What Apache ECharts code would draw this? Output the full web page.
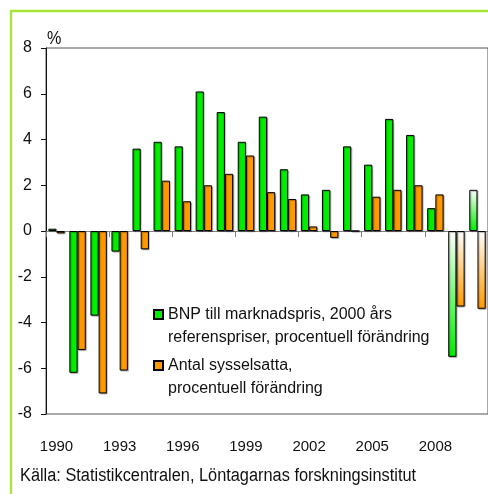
<!DOCTYPE html>
<html>
<head>
<meta charset="utf-8">
<script src="https://cdn.jsdelivr.net/npm/echarts@6/dist/echarts.min.js"></script>
<style>
html,body{margin:0;padding:0;background:#fff;}
#main{width:488px;height:494px;}
</style>
</head>
<body>
<div id="main"></div>
<script>
var years = ['1990','1991','1992','1993','1994','1995','1996','1997','1998','1999','2000',
             '2001','2002','2003','2004','2005','2006','2007','2008','2009','2010'];
// BNP till marknadspris, procentuell förändring
var bnp = [0.1, -6.2, -3.7, -0.9, 3.6, 3.9, 3.7, 6.1, 5.2, 3.9, 5.0,
           2.7, 1.6, 1.8, 3.7, 2.9, 4.9, 4.2, 1.0, -5.5, 1.8];
// Antal sysselsatta, procentuell förändring
var emp = [-0.1, -5.2, -7.1, -6.1, -0.8, 2.2, 1.3, 2.0, 2.5, 3.3, 1.7,
           1.4, 0.2, -0.3, 0, 1.5, 1.8, 2.0, 1.6, -3.3, -3.4];
// prognosår
var forecast = ['2009','2010'];
var yTicks = {min: -8, max: 8, step: 2};

var nameBnp = 'BNP till marknadspris, 2000 års\nreferenspriser, procentuell förändring';
var nameEmp = 'Antal sysselsatta,\nprocentuell förändring';

var font = "'Liberation Sans', Arial, sans-serif";
var green = '#00ee00';
var orange = '#ff9900';

function barData(values, color){
	var out = [];
	for(var i=0;i<values.length;i++){
		if(forecast.indexOf(years[i]) >= 0){
			out.push({
				value: values[i],
				itemStyle: {
					color: new echarts.graphic.LinearGradient(0,0,0,1,[
						{offset:0,color:'#ffffff'},
						{offset:1,color:color}
					])
				}
			});
		}else{
			out.push(values[i]);
		}
	}
	return out;
}

var myChart = echarts.init(document.getElementById('main'));
var option = {
	animation: false,
	textStyle: {fontFamily: font},
	grid: {
		left: 46, top: 48, width: 451.5, height: 366,
		show: true, borderColor: '#555', borderWidth: 1,
		backgroundColor: 'transparent'
	},
	legend: {
		orient: 'vertical',
		left: 153, top: 303,
		padding: 0,
		itemWidth: 9, itemHeight: 32,
		itemGap: 5,
		// ruta upptill, så att den står vid första raden
		icon: 'path://M0,0L9,0L9,9L0,9Z M0,32',
		textStyle: {fontFamily: font, fontSize: 16, color: '#111', lineHeight: 23},
		data: [nameBnp, nameEmp]
	},
	xAxis: [
		{
			type: 'category',
			data: years,
			position: 'bottom',
			axisLine: {show: false, onZero: false},
			axisTick: {show: false},
			axisLabel: {interval: 2, margin: 25, fontSize: 15, color: '#111', fontFamily: font}
		},
		{
			type: 'category',
			data: years,
			position: 'top',
			axisLine: {show: true, onZero: true, lineStyle: {color: '#808080', width: 1}},
			axisTick: {show: true, interval: 2, inside: true, length: 6, lineStyle: {color: '#808080'}},
			axisLabel: {show: false}
		}
	],
	yAxis: {
		type: 'value',
		min: yTicks.min, max: yTicks.max, interval: yTicks.step,
		axisLine: {show: true, lineStyle: {color: '#111', width: 1}},
		axisTick: {show: true, length: 5, lineStyle: {color: '#111'}},
		splitLine: {show: false},
		axisLabel: {margin: 14, fontSize: 16, color: '#111', fontFamily: font}
	},
	series: [
		{
			name: nameBnp,
			type: 'bar',
			xAxisIndex: 0,
			barGap: '0%',
			barCategoryGap: '22%',
			itemStyle: {color: green, borderColor: '#000', borderWidth: 1,
				shadowColor: 'rgba(0,0,0,0.3)', shadowOffsetX: 1, shadowOffsetY: 1, shadowBlur: 1},
			data: barData(bnp, green)
		},
		{
			name: nameEmp,
			type: 'bar',
			xAxisIndex: 0,
			itemStyle: {color: orange, borderColor: '#000', borderWidth: 1,
				shadowColor: 'rgba(0,0,0,0.3)', shadowOffsetX: 1, shadowOffsetY: 1, shadowBlur: 1},
			data: barData(emp, orange)
		}
	],
	graphic: [
		{
			type: 'rect',
			shape: {x: 11, y: 11, width: 540, height: 540},
			style: {fill: 'none', stroke: '#a6e63a', lineWidth: 2.3},
			silent: true
		},
		{
			type: 'text',
			x: 47, y: 39, scaleX: 0.9,
			style: {text: '%', fontFamily: font, fontSize: 18, fill: '#111', verticalAlign: 'middle'}
		},
		{
			type: 'text',
			x: 20, y: 476, scaleX: 0.908,
			style: {text: 'Källa: Statistikcentralen, Löntagarnas forskningsinstitut', fontFamily: font, fontSize: 18, fill: '#111', verticalAlign: 'middle'}
		}
	]
};
myChart.setOption(option);
</script>
</body>
</html>
